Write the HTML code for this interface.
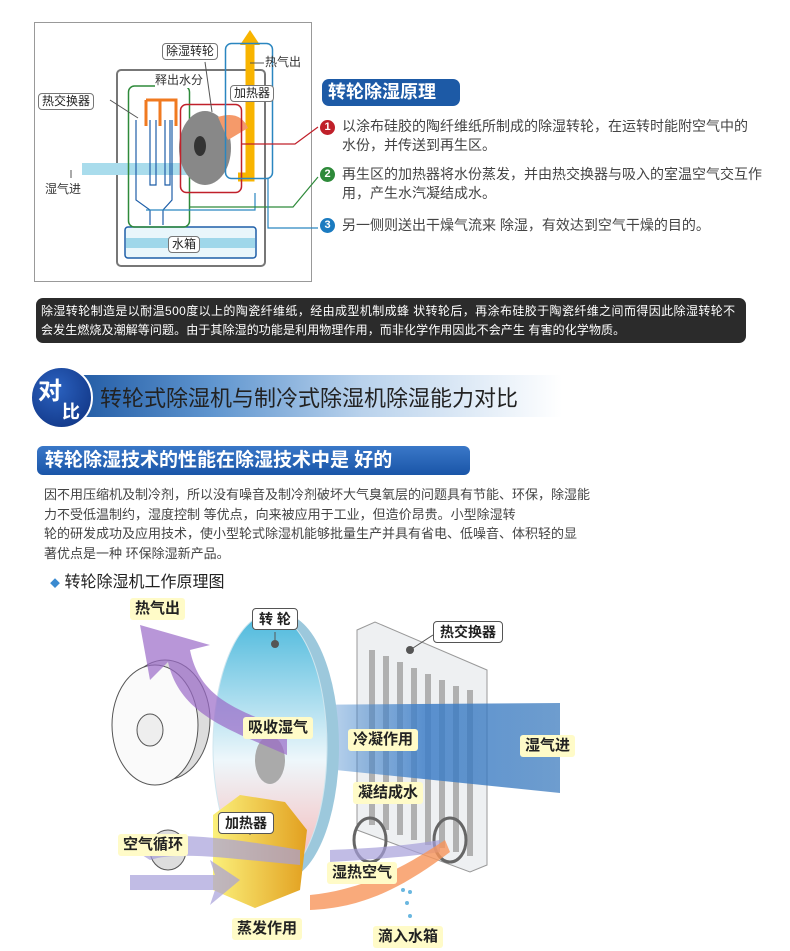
<!DOCTYPE html>
<html><head><meta charset="utf-8">
<style>
*{margin:0;padding:0;box-sizing:border-box}
body{width:790px;height:951px;background:#fff;position:relative;overflow:hidden;font-family:"Liberation Sans","Noto Sans CJK SC",sans-serif;color:#333}
.a{position:absolute;white-space:nowrap}
.lbl{position:absolute;white-space:nowrap;font-size:12px;color:#222;background:#fff;border:1.5px solid #777;border-radius:4px;padding:0 3px;line-height:15px}
.it{position:absolute;left:342px;font-size:14px;line-height:19px;color:#444;width:412px}
.num{position:absolute;left:320px;width:15px;height:15px;border-radius:50%;color:#fff;font-size:11px;font-weight:bold;text-align:center;line-height:15px}
.y{position:absolute;white-space:nowrap;background:#fffbc8;font-weight:bold;font-size:15px;color:#222;padding:1px 5px;border-radius:3px;line-height:20px}
.w{position:absolute;white-space:nowrap;background:#fff;border:1.5px solid #555;font-weight:bold;font-size:14px;color:#222;padding:0 6px;border-radius:4px;line-height:20px}
</style></head><body>

<svg class="a" style="left:0;top:0" width="320" height="290">
<rect x="34.5" y="22.5" width="277" height="259" fill="#fff" stroke="#999"/>
<rect x="117" y="70" width="148" height="196" rx="4" fill="none" stroke="#777" stroke-width="2"/>
<rect x="125" y="227" width="131" height="31" rx="3" fill="#e9f6fb" stroke="#1e5ea8" stroke-width="1.5"/>
<rect x="126" y="238" width="129" height="10" fill="#9fd7ea"/>
<rect x="82" y="163" width="133" height="12" fill="#a9dcec"/>
<polygon points="200,158 215,169 200,180" fill="#8fd0e6"/>
<path d="M238,177 H250 V42" fill="none" stroke="#f8b400" stroke-width="9"/>
<polygon points="240,45 250,30 260,45" fill="#f8b400"/>
<rect x="128.5" y="86" width="61" height="141" rx="6" fill="none" stroke="#2e8a3a" stroke-width="1.5"/>
<path d="M146,100 V126 M160,100 V126 M146,100 H176 V126" fill="none" stroke="#f07a20" stroke-width="3"/>
<path d="M136,120 V200 L150,210 V225 M150,120 V185 H156 V120 M165,120 V185 H170 V120 M172,120 V200 L163,210 V225" fill="none" stroke="#1e5ea8" stroke-width="1.2"/>
<path d="M146,210 H255 V193" fill="none" stroke="#2a86c0" stroke-width="1.2"/>
<ellipse cx="205" cy="148" rx="26" ry="37" fill="#888"/>
<ellipse cx="200" cy="146" rx="6" ry="10" fill="#333"/>
<path d="M218,117 Q240,110 248,128 L228,140 Z" fill="#f59a6a"/>
<rect x="180.5" y="104.5" width="61" height="88" rx="6" fill="none" stroke="#c0202a" stroke-width="1.5"/>
<rect x="225.5" y="43.5" width="47" height="135" rx="6" fill="none" stroke="#2a86c0" stroke-width="1.5"/>
<path d="M241,144 H295 L318,127" fill="none" stroke="#c0202a" stroke-width="1.2"/>
<path d="M190,207 H293 L318,177" fill="none" stroke="#2e8a3a" stroke-width="1.2"/>
<path d="M268,178 V228 H318" fill="none" stroke="#2a86c0" stroke-width="1.2"/>
<path d="M71,170 V178 M250,63 H264 M110,100 L138,118 M205,62 L212,112" stroke="#555" fill="none"/>
</svg>
<div class="lbl" style="left:162px;top:43px">除湿转轮</div>
<div class="a" style="left:265px;top:53px;font-size:12px">热气出</div>
<div class="a" style="left:155px;top:71px;font-size:12px;background:#fff">释出水分</div>
<div class="lbl" style="left:230px;top:85px">加热器</div>
<div class="lbl" style="left:38px;top:93px">热交换器</div>
<div class="a" style="left:45px;top:180px;font-size:12px">湿气进</div>
<div class="lbl" style="left:168px;top:236px">水箱</div>

<div class="a" style="left:322px;top:79px;height:27px;width:138px;background:#1d5aa6;border-radius:7px;color:#fff;font-weight:bold;font-size:18px;line-height:27px;padding-left:6px">转轮除湿原理</div>
<div class="num" style="top:120px;background:#c0202a">1</div>
<div class="it" style="top:117px">以涂布硅胶的陶纤维纸所制成的除湿转轮，在运转时能附空气中的水份，并传送到再生区。</div>
<div class="num" style="top:167px;background:#2e8a3a">2</div>
<div class="it" style="top:165px;width:424px">再生区的加热器将水份蒸发，并由热交换器与吸入的室温空气交互作用，产生水汽凝结成水。</div>
<div class="num" style="top:218px;background:#1b7bc0">3</div>
<div class="it" style="top:216px">另一侧则送出干燥气流来 除湿，有效达到空气干燥的目的。</div>

<div class="a" style="left:36px;top:298px;width:710px;height:45px;background:#2b2b2b;border-radius:7px;color:#fff;font-size:12px;line-height:19px;padding:4px 5px;white-space:nowrap;overflow:hidden"><span style="letter-spacing:0.4px">除湿转轮制造是以耐温500度以上的陶瓷纤维纸，经由成型机制成蜂 状转轮后，再涂布硅胶于陶瓷纤维之间而得因此除湿转轮不</span><br><span style="letter-spacing:0.1px">会发生燃烧及潮解等问题。由于其除湿的功能是利用物理作用，而非化学作用因此不会产生 有害的化学物质。</span></div>

<div class="a" style="left:62px;top:375px;width:500px;height:42px;background:linear-gradient(90deg,#1b55a0 0%,#5f95cf 30%,#b9d2ec 60%,#fff 100%)"></div>
<div class="a" style="left:30px;top:366px;width:63px;height:63px;border-radius:50%;background:radial-gradient(circle at 40% 35%,#2b62c0,#0d2f7c);border:2px solid #fff;color:#fff;font-weight:bold"><span class="a" style="left:6px;top:3px;font-size:24px">对</span><span class="a" style="left:30px;top:30px;font-size:18px">比</span></div>
<div class="a" style="left:100px;top:381px;font-size:22px;color:#222">转轮式除湿机与制冷式除湿机除湿能力对比</div>

<div class="a" style="left:37px;top:446px;width:433px;height:29px;background:linear-gradient(#3a78c8,#1a55a8);border-radius:6px;color:#fff;font-weight:bold;font-size:19px;line-height:29px;padding-left:8px">转轮除湿技术的性能在除湿技术中是 好的</div>
<div class="a" style="left:44px;top:485px;font-size:13px;line-height:19.5px;color:#444">因不用压缩机及制冷剂，所以没有噪音及制冷剂破坏大气臭氧层的问题具有节能、环保，除湿能<br>力不受低温制约，湿度控制 等优点，向来被应用于工业，但造价昂贵。小型除湿转<br>轮的研发成功及应用技术，使小型轮式除湿机能够批量生产并具有省电、低噪音、体积轻的显<br>著优点是一种 环保除湿新产品。</div>
<div class="a" style="left:50px;top:568px;font-size:16px;color:#222"><span style="color:#3a8ad0;font-size:10px">◆</span> 转轮除湿机工作原理图</div>

<svg class="a" style="left:0;top:590px" width="790" height="361">
<defs>
<linearGradient id="bl" x1="0" x2="1"><stop offset="0" stop-color="#4d8fd0" stop-opacity="0.2"/><stop offset="0.5" stop-color="#3f7fc8"/><stop offset="1" stop-color="#2a6fb8" stop-opacity="0.8"/></linearGradient>
<linearGradient id="wh" x1="0" y1="0" x2="0" y2="1"><stop offset="0" stop-color="#4ab8dc"/><stop offset="0.55" stop-color="#eef7fb"/><stop offset="1" stop-color="#f7b0b0"/></linearGradient>
<linearGradient id="ht" x1="0" x2="1"><stop offset="0" stop-color="#fbf07a"/><stop offset="1" stop-color="#e2a020"/></linearGradient>
</defs>
<polygon points="357,40 375,32 487,80 487,275 470,282 357,240" fill="#eef0f2" stroke="#999"/>
<g stroke="#b0b0b0" stroke-width="6" fill="none">
<path d="M372,60 V235 M386,66 V240 M400,72 V245 M414,78 V250 M428,84 V255 M442,90 V258 M456,96 V262 M470,100 V266"/>
</g>
<ellipse cx="370" cy="250" rx="16" ry="22" fill="none" stroke="#666" stroke-width="3"/>
<ellipse cx="450" cy="250" rx="16" ry="22" fill="none" stroke="#666" stroke-width="3"/>
<polygon points="287,115 560,113 560,203 287,175" fill="url(#bl)" opacity="0.85"/>
<ellipse cx="165" cy="130" rx="45" ry="60" fill="#ddd" stroke="#555"/>
<ellipse cx="155" cy="135" rx="43" ry="60" fill="#fafafa" stroke="#555"/>
<ellipse cx="150" cy="140" rx="13" ry="16" fill="#eee" stroke="#555"/>
<ellipse cx="168" cy="260" rx="18" ry="20" fill="#ddd" stroke="#555"/>
<ellipse cx="282" cy="157" rx="57" ry="133" fill="#9cc8dc"/>
<ellipse cx="270" cy="157" rx="57" ry="133" fill="url(#wh)" stroke="#cfe6ef"/>
<ellipse cx="270" cy="170" rx="15" ry="24" fill="#aaa"/>
<path d="M287,140 C240,120 200,110 190,60 L210,55 L140,35 L150,90 L168,72 C180,125 230,140 287,165 Z" fill="#9a6ac8" opacity="0.7"/>
<polygon points="213,225 240,205 285,212 307,240 300,300 255,318 213,300" fill="url(#ht)"/>
<path d="M118,250 C180,240 240,250 300,260 V275 C240,270 180,260 150,270 Z" fill="#a7a0da" opacity="0.7"/>
<path d="M130,285 L215,285 L210,270 L240,290 L210,315 L215,300 L130,300 Z" fill="#a7a0da" opacity="0.7"/>
<path d="M330,260 C380,258 410,255 440,250 L440,262 C400,268 360,270 330,272 Z" fill="#a7a0da" opacity="0.7"/>
<path d="M310,305 C360,300 400,280 445,250 L450,262 C400,300 360,318 310,320 Z" fill="#f7955a" opacity="0.8"/>
<g fill="#6ab7e0"><circle cx="403" cy="300" r="2"/><circle cx="410" cy="302" r="2"/><circle cx="407" cy="313" r="2"/><circle cx="410" cy="326" r="2"/></g>
<circle cx="275" cy="54" r="4" fill="#555"/><path d="M275,42 V54" stroke="#555"/>
<circle cx="410" cy="60" r="4" fill="#555"/><path d="M433,45 L410,60" stroke="#555"/>
<circle cx="250" cy="238" r="4" fill="#555"/><path d="M250,245 V238" stroke="#555"/>
</svg>
<div class="y" style="left:130px;top:598px">热气出</div>
<div class="w" style="left:252px;top:608px">转 轮</div>
<div class="w" style="left:433px;top:621px">热交换器</div>
<div class="y" style="left:243px;top:717px">吸收湿气</div>
<div class="y" style="left:348px;top:729px">冷凝作用</div>
<div class="y" style="left:520px;top:735px">湿气进</div>
<div class="y" style="left:353px;top:782px">凝结成水</div>
<div class="w" style="left:218px;top:812px">加热器</div>
<div class="y" style="left:118px;top:834px">空气循环</div>
<div class="y" style="left:327px;top:862px">湿热空气</div>
<div class="y" style="left:232px;top:918px">蒸发作用</div>
<div class="y" style="left:373px;top:926px">滴入水箱</div>
</body></html>
